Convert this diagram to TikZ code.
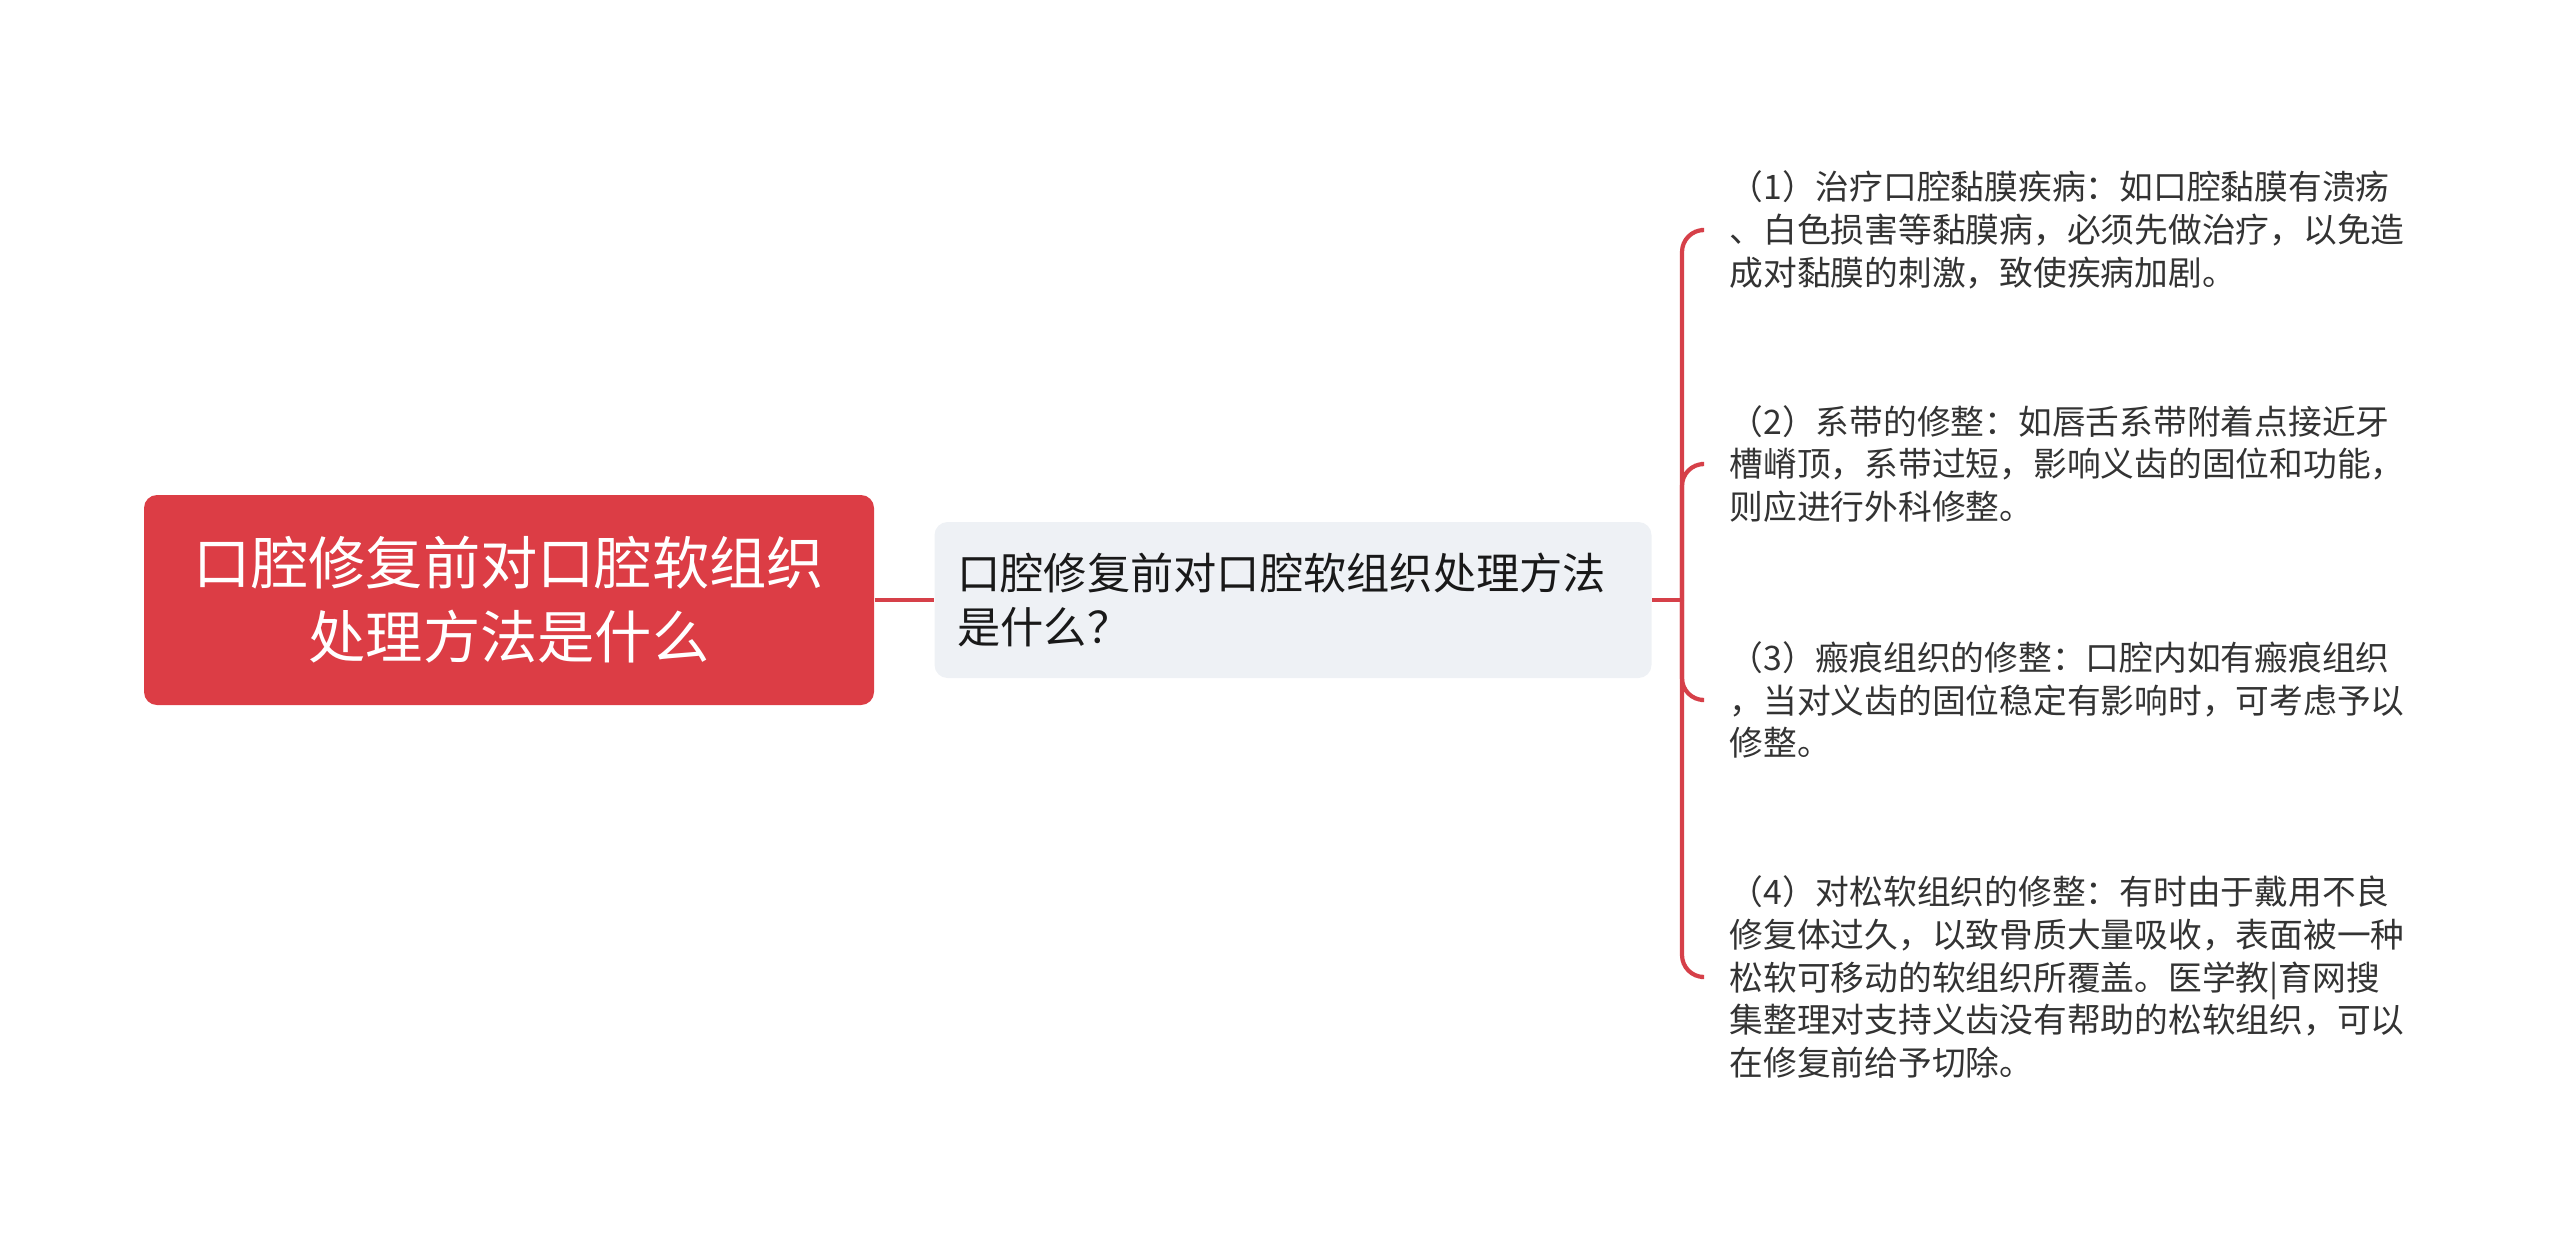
\documentclass[tikz,border=0pt]{standalone}
\usepackage{fontspec}
\setmainfont{Noto Sans CJK SC}
\usepackage{xcolor}
\usepackage{tikz}
\usetikzlibrary{positioning}
\definecolor{rootred}{RGB}{220,61,69}
\definecolor{midgray}{RGB}{238,241,245}
\definecolor{linkred}{RGB}{214,64,73}
\tikzset{edge/.style = {draw=linkred, line width=1.2pt}}
\tikzset{leaf/.style = {anchor=west, align=left, text width=6.9cm, inner xsep=0.28cm, inner ysep=0pt, text=black!80, font=\fontsize{9.6}{12.2}\selectfont}}

\begin{document}
\begin{tikzpicture}[]
		\useasboundingbox (0,0) rectangle (25.6,-12.41);
		%draw root and middle boxes
		\node[fill=rootred, rounded corners=0.13cm, minimum width=7.3cm, minimum height=2.1cm, text width=7cm, align=center, text=white, font=\fontsize{16.3}{21}\selectfont](A) at (5.09,-6.00){口腔修复前对口腔软组织\\处理方法是什么};
		\node[fill=midgray, rounded corners=0.13cm, minimum height=1.56cm, text width=6.71cm, inner xsep=0.23cm, align=left, text=black!90, font=\fontsize{12.3}{15.4}\selectfont](B) at (12.93,-6.00){口腔修复前对口腔软组织处理方法\\是什么？};
		\draw[edge] (A) -- (B);

		%draw the leaves
		\node[leaf](C) at (17.01,-2.30){（1）治疗口腔黏膜疾病：如口腔黏膜有溃疡\\、白色损害等黏膜病，必须先做治疗，以免造\\成对黏膜的刺激，致使疾病加剧。};
		\node[leaf](D) at (17.01,-4.64){（2）系带的修整：如唇舌系带附着点接近牙\\槽嵴顶，系带过短，影响义齿的固位和功能，\\则应进行外科修整。};
		\node[leaf](E) at (17.01,-7.00){（3）瘢痕组织的修整：口腔内如有瘢痕组织\\，当对义齿的固位稳定有影响时，可考虑予以\\修整。};
		\node[leaf](F) at (17.01,-9.77){（4）对松软组织的修整：有时由于戴用不良\\修复体过久，以致骨质大量吸收，表面被一种\\松软可移动的软组织所覆盖。医学教|育网搜\\集整理对支持义齿没有帮助的松软组织，可以\\在修复前给予切除。};

		%draw the bracket
		\coordinate(H) at (16.82,-6.00);
		\draw[edge] (B) -- (H);
		\foreach \n in {C,D,E,F}{\draw[edge, rounded corners=0.22cm] (H) |- (\n.west);}
		\end{tikzpicture}
\end{document}
